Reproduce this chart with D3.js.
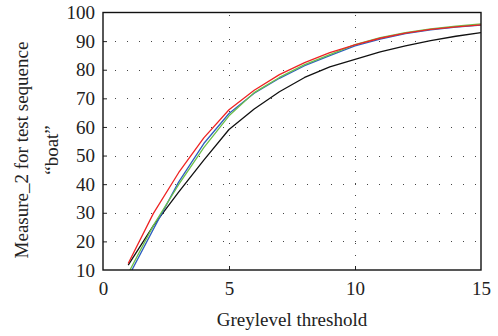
<!DOCTYPE html>
<html>
<head>
<meta charset="utf-8">
<script src="https://cdn.jsdelivr.net/npm/d3@7/dist/d3.min.js"></script>
<style>
  html, body { margin: 0; padding: 0; background: #fff; }
  svg text { font-family: "Liberation Serif", "DejaVu Serif", "Times New Roman", serif !important; fill: #222; }
</style>
</head>
<body>
<svg id="chart" width="498" height="336"></svg>
<script>
// Greylevel thresholds (x) and Measure_2 curves for the "boat" sequence
const thresholds = [1, 2, 3, 4, 5, 6, 7, 8, 9, 10, 11, 12, 13, 14, 15];
const seriesBlack = [11.7, 25.5, 37.2, 48.4, 59.1, 66.3, 72.3, 77.3, 81.0, 83.6, 86.2, 88.3, 90.2, 91.7, 93.0];
const seriesBlue  = [7.5, 24.3, 40.7, 54.2, 64.7, 71.8, 77.0, 81.4, 84.9, 88.3, 90.7, 92.6, 93.9, 94.9, 95.6];
const seriesGreen = [8.8, 25.6, 39.8, 52.8, 63.9, 72.0, 77.3, 81.8, 85.3, 88.8, 91.2, 93.0, 94.3, 95.2, 96.0];
const seriesRed   = [12.3, 29.8, 44.0, 56.2, 66.0, 72.8, 78.3, 82.5, 86.0, 88.7, 91.0, 92.8, 94.1, 95.0, 95.7];
const xTicks = [0, 5, 10, 15];
const yTicks = [10, 20, 30, 40, 50, 60, 70, 80, 90, 100];
const xLabel = "Greylevel threshold";
const yLabelLines = ["Measure_2 for test sequence", "\u201Cboat\u201D"];

const FONT = "'Liberation Serif', 'DejaVu Serif', 'Times New Roman', serif";
const svg = d3.select("#chart");
const margin = { left: 103, right: 17, top: 12.5, bottom: 66 };
const W = 498, H = 336;
const x = d3.scaleLinear().domain([0, 15]).range([margin.left, W - margin.right]);
const y = d3.scaleLinear().domain([10, 100]).range([H - margin.bottom, margin.top]);

// clip lines to the plotting box
svg.append("clipPath").attr("id", "plotclip")
  .append("rect")
  .attr("x", x(0)).attr("y", y(100))
  .attr("width", x(15) - x(0)).attr("height", y(10) - y(100));

// dotted grid
const grid = svg.append("g").attr("stroke", "#444").attr("stroke-width", 1)
  .attr("stroke-dasharray", "1,11").attr("shape-rendering", "crispEdges");
yTicks.filter(v => v > 10 && v < 100).forEach(v => {
  grid.append("line")
    .attr("x1", x(0) + 12).attr("x2", x(15))
    .attr("y1", Math.round(y(v)) + 0.5).attr("y2", Math.round(y(v)) + 0.5);
});
xTicks.filter(v => v > 0 && v < 15).forEach(v => {
  grid.append("line")
    .attr("x1", Math.round(x(v)) + 0.5).attr("x2", Math.round(x(v)) + 0.5)
    .attr("y1", y(100) + 2).attr("y2", y(10));
});

// curves
const line = d3.line().x((d, i) => x(thresholds[i])).y(d => y(d));
const curves = [
  { values: seriesBlack, color: "#111111" },
  { values: seriesBlue,  color: "#2f5fc0" },
  { values: seriesGreen, color: "#6cc04a" },
  { values: seriesRed,   color: "#ee2424" }
];
const lines = svg.append("g").attr("clip-path", "url(#plotclip)");
curves.forEach(c => {
  lines.append("path")
    .datum(c.values)
    .attr("d", line)
    .attr("fill", "none")
    .attr("stroke", c.color)
    .attr("stroke-width", 1.3)
    .attr("stroke-linejoin", "round");
});

// axes with inward ticks
const xAxis = d3.axisBottom(x).tickValues(xTicks).tickSizeInner(-4).tickSizeOuter(0).tickPadding(12);
const yAxis = d3.axisLeft(y).tickValues(yTicks).tickSizeInner(-4).tickSizeOuter(0).tickPadding(8);

const gx = svg.append("g").attr("transform", `translate(0,${y(10)})`).call(xAxis);
const gy = svg.append("g").attr("transform", `translate(${x(0)},0)`).call(yAxis);
[gx, gy].forEach(g => {
  g.attr("font-family", FONT);
  g.select(".domain").remove();
  g.selectAll(".tick line").attr("stroke", "#222").attr("stroke-width", 1);
  g.selectAll("text").attr("font-size", 19).attr("fill", "#222");
});
gx.selectAll(".tick").filter(d => d === 0 || d === 15).select("line").remove();
gy.selectAll(".tick").filter(d => d === 10 || d === 100).select("line").remove();

// plot box
svg.append("rect")
  .attr("x", x(0)).attr("y", y(100))
  .attr("width", x(15) - x(0)).attr("height", y(10) - y(100))
  .attr("fill", "none").attr("stroke", "#111").attr("stroke-width", 1.4);

// axis titles
svg.append("text")
  .attr("x", (x(0) + x(15)) / 2).attr("y", 326)
  .attr("text-anchor", "middle").attr("font-size", 19)
  .attr("font-family", FONT)
  .text(xLabel);

const yl = svg.append("text")
  .attr("transform", "translate(0,150) rotate(-90)")
  .attr("text-anchor", "middle").attr("font-size", 19)
  .attr("font-family", FONT);
yLabelLines.forEach((t, i) => {
  yl.append("tspan").attr("x", 0).attr("y", 28 + i * 30).text(t);
});
</script>
</body>
</html>
